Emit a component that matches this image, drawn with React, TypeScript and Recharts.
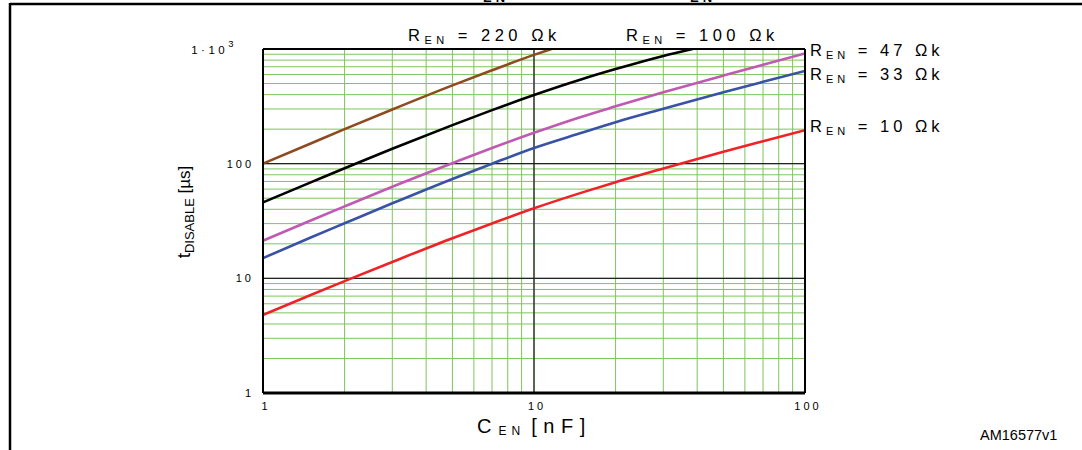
import { LineChart, Line, XAxis, YAxis, CartesianGrid, ReferenceLine } from "recharts";

// grid ticks (log decades 1..100 nF, 1..1000 µs)
const cTicks = [1, 2, 3, 4, 5, 6, 7, 8, 9, 10, 20, 30, 40, 50, 60, 70, 80, 90, 100];
const tTicks = [
  1, 2, 3, 4, 5, 6, 7, 8, 9, 10, 20, 30, 40, 50, 60, 70, 80, 90, 100,
  200, 300, 400, 500, 600, 700, 800, 900, 1000,
];
const cDecades = [1, 10, 100];
const tDecades = [1, 10, 100, 1000];

// curves: C_EN [nF] -> t_DISABLE [µs]
const c220 = [1, 1.5, 2, 3, 5, 7, 10, 11.6];
const t220 = [100, 150, 200, 297, 482, 653, 889, 1000];
const c100 = [1, 1.5, 2, 3, 5, 7, 10, 15, 20, 30, 38.5];
const t100 = [46, 68.7, 91.3, 135, 217, 293, 397, 545, 668, 870, 1000];
const cLow = [1, 1.5, 2, 3, 5, 7, 10, 15, 20, 30, 50, 70, 100];
const t47 = [21.3, 31.9, 42.4, 62.9, 101, 137, 186, 257, 316, 419, 587, 729, 915];
const t33 = [15, 22.7, 30.2, 45.1, 73.6, 100, 137, 186, 230, 301, 419, 517, 644];
const t10 = [4.8, 7.16, 9.46, 13.9, 22.4, 30.1, 40.8, 55.9, 68.9, 90.8, 127, 157, 196];

const pts = (c: number[], t: number[]) => c.map((v, i) => ({ c: v, t: t[i] }));

const series = [
  { key: "220", data: pts(c220, t220), color: "#8e4b22" },
  { key: "100", data: pts(c100, t100), color: "#000000" },
  { key: "47", data: pts(cLow, t47), color: "#c059b2" },
  { key: "33", data: pts(cLow, t33), color: "#3a52a6" },
  { key: "10", data: pts(cLow, t10), color: "#ee2327" },
];

const FONT = "'Liberation Sans', Arial, sans-serif";
const GREEN = "#7cc65a";

const XTick = (props: any) => {
  const { x, y, payload } = props;
  if (!cDecades.includes(payload.value)) return <g />;
  return (
    <text x={x + 3} y={y + 9} textAnchor="middle" fontSize={11} letterSpacing={3} fill="#000" fontFamily={FONT}>
      {String(payload.value)}
    </text>
  );
};

const YTick = (props: any) => {
  const { x, y, payload } = props;
  if (!tDecades.includes(payload.value)) return <g />;
  if (payload.value === 1000) {
    return (
      <text x={x - 18} y={y + 5} textAnchor="end" fontSize={11.5} letterSpacing={3.5} fill="#000" fontFamily={FONT}>
        1·10<tspan dy={-7} fontSize={9.5}>3</tspan>
      </text>
    );
  }
  return (
    <text x={x - 1} y={y + 4} textAnchor="end" fontSize={11} letterSpacing={3} fill="#000" fontFamily={FONT}>
      {String(payload.value)}
    </text>
  );
};

const RLabel = ({ x, y, value, spacing }: { x: number; y: number; value: string; spacing: number }) => (
  <text x={x} y={y} fontSize={16.5} letterSpacing={spacing} fontFamily={FONT} fill="#000">
    R<tspan fontSize={11} dy={3}>EN</tspan>
    <tspan dy={-3}> = {value} Ωk</tspan>
  </text>
);

export default function App() {
  return (
    <div style={{ position: "relative", width: 1082, height: 450, background: "#fff" }}>
      <style>{"body{margin:0}"}</style>
      <LineChart width={1082} height={450} margin={{ top: 49, right: 277, bottom: 27, left: 183 }}>
        <CartesianGrid stroke={GREEN} strokeWidth={1} />
        <XAxis
          dataKey="c"
          type="number"
          scale="log"
          domain={[1, 100]}
          ticks={cTicks}
          interval={0}
          allowDataOverflow
          axisLine={false}
          tickLine={false}
          height={30}
          tick={<XTick />}
        />
        <YAxis
          dataKey="t"
          type="number"
          scale="log"
          domain={[1, 1000]}
          ticks={tTicks}
          interval={0}
          allowDataOverflow
          axisLine={false}
          tickLine={false}
          width={80}
          tick={<YTick />}
        />
        <ReferenceLine x={10} stroke="#222" strokeWidth={1.3} />
        <ReferenceLine y={10} stroke="#222" strokeWidth={1.3} />
        <ReferenceLine y={100} stroke="#222" strokeWidth={1.3} />
        {series.map((s) => (
          <Line
            key={s.key}
            data={s.data}
            dataKey="t"
            type="monotone"
            stroke={s.color}
            strokeWidth={2.6}
            dot={false}
            isAnimationActive={false}
          />
        ))}
        <ReferenceLine x={1} stroke="#000" strokeWidth={2} />
        <ReferenceLine x={100} stroke="#000" strokeWidth={2} />
        <ReferenceLine y={1000} stroke="#000" strokeWidth={2} />
        <ReferenceLine y={1} stroke="#000" strokeWidth={3} />
      </LineChart>
      <svg width={1082} height={450} style={{ position: "absolute", left: 0, top: 0, pointerEvents: "none" }}>
        <line x1={10} y1={4} x2={1082} y2={4} stroke="#000" strokeWidth={2.5} />
        <line x1={10} y1={3} x2={10} y2={450} stroke="#000" strokeWidth={2.5} />
        <text x={483} y={1.5} fontSize={13} fontWeight="bold" fontFamily={FONT} letterSpacing={4}>EN</text>
        <text x={690} y={1.5} fontSize={13} fontWeight="bold" fontFamily={FONT} letterSpacing={4}>EN</text>
        <RLabel x={408} y={41} value="220" spacing={4.5} />
        <RLabel x={626} y={41} value="100" spacing={4.5} />
        <RLabel x={810} y={56} value="47" spacing={4} />
        <RLabel x={810} y={80} value="33" spacing={4} />
        <RLabel x={810} y={132} value="10" spacing={4} />
        <text x={477} y={433} fontSize={20} fontFamily={FONT} letterSpacing={3}>
          C<tspan fontSize={12} dy={2} dx={4} letterSpacing={5}>EN</tspan>
          <tspan dy={-2} letterSpacing={0.5}> [ n F ]</tspan>
        </text>
        <text transform="translate(190 212) rotate(-90)" textAnchor="middle" fontSize={19} fontFamily={FONT}>
          t<tspan fontSize={13} dy={4}>DISABLE</tspan>
          <tspan dy={-4} fontSize={17}> [µs]</tspan>
        </text>
        <text x={980} y={440} fontSize={14.5} fontFamily={FONT}>AM16577v1</text>
      </svg>
    </div>
  );
}
